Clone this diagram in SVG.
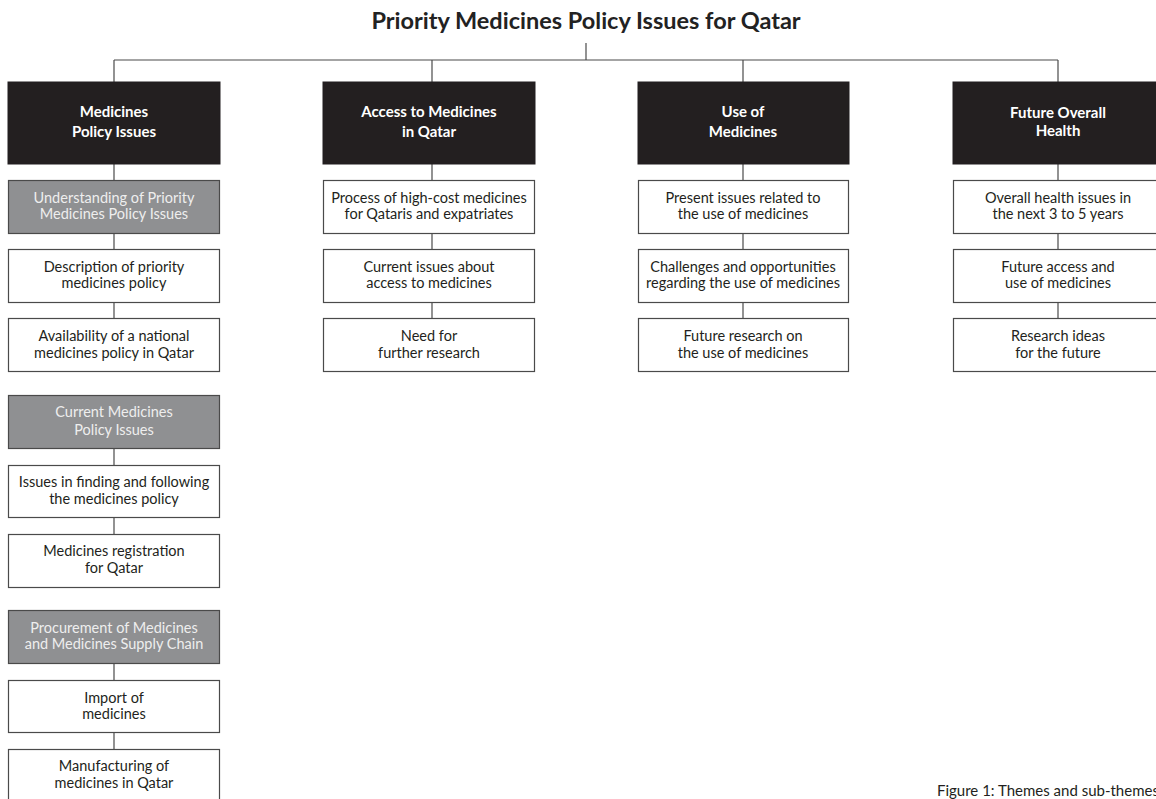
<svg xmlns="http://www.w3.org/2000/svg" width="1156" height="799" viewBox="0 0 1156 799">
<style>
text{font-family:Lato,"Open Sans","Liberation Sans",sans-serif;text-anchor:middle}
.title{font-size:23.5px;font-weight:700;fill:#222}
.th rect{fill:#231f20;stroke:#231f20}
.th text{fill:#fff;font-weight:700;font-size:15px}
.gr rect{fill:#8f9092;stroke:#4a4a4a;stroke-width:1.2}
.gr text{fill:#eeeeee;font-size:14.5px}
.wh rect{fill:#fff;stroke:#4a4a4a;stroke-width:1.2}
.wh text{fill:#231f20;font-size:14.5px}
.con line{stroke:#4a4a4a;stroke-width:1.2}
.cap{font-size:15px;fill:#231f20;text-anchor:start}
</style>
<rect width="1156" height="799" fill="#fff"/>
<text class="title" x="586" y="29">Priority Medicines Policy Issues for Qatar</text>
<g class="con">
<line x1="586" y1="43" x2="586" y2="60"/>
<line x1="114" y1="60" x2="1058" y2="60"/>
<line x1="114" y1="60" x2="114" y2="82"/>
<line x1="432" y1="60" x2="432" y2="82"/>
<line x1="743" y1="60" x2="743" y2="82"/>
<line x1="1058" y1="60" x2="1058" y2="82"/>
<line x1="114" y1="164" x2="114" y2="180"/>
<line x1="114" y1="234" x2="114" y2="249"/>
<line x1="114" y1="302" x2="114" y2="318"/>
<line x1="114" y1="449" x2="114" y2="465"/>
<line x1="114" y1="518" x2="114" y2="534"/>
<line x1="114" y1="663" x2="114" y2="680"/>
<line x1="114" y1="733" x2="114" y2="749"/>
<line x1="432" y1="164" x2="432" y2="180"/>
<line x1="432" y1="234" x2="432" y2="249"/>
<line x1="432" y1="302" x2="432" y2="318"/>
<line x1="743" y1="164" x2="743" y2="180"/>
<line x1="743" y1="234" x2="743" y2="249"/>
<line x1="743" y1="302" x2="743" y2="318"/>
<line x1="1058" y1="164" x2="1058" y2="180"/>
<line x1="1058" y1="234" x2="1058" y2="249"/>
<line x1="1058" y1="302" x2="1058" y2="318"/>
</g>
<!-- column 1 -->
<g id="t1" class="th"><rect x="8" y="82" width="212" height="82"/><text x="114" y="117">Medicines</text><text x="114" y="137">Policy Issues</text></g>
<g id="g1" class="gr"><rect x="8.5" y="180.5" width="211" height="53"/><text x="114" y="203">Understanding of Priority</text><text x="114" y="219">Medicines Policy Issues</text></g>
<g id="w1a" class="wh"><rect x="8.5" y="249.5" width="211" height="53"/><text x="114" y="272">Description of priority</text><text x="114" y="288">medicines policy</text></g>
<g id="w1b" class="wh"><rect x="8.5" y="318.5" width="211" height="53"/><text x="114" y="341">Availability of a national</text><text x="114" y="358">medicines policy in Qatar</text></g>
<g id="g2" class="gr"><rect x="8.5" y="395.5" width="211" height="53"/><text x="114" y="417">Current Medicines</text><text x="114" y="435">Policy Issues</text></g>
<g id="w2a" class="wh"><rect x="8.5" y="465.5" width="211" height="52"/><text x="114" y="487">Issues in finding and following</text><text x="114" y="504">the medicines policy</text></g>
<g id="w2b" class="wh"><rect x="8.5" y="534.5" width="211" height="53"/><text x="114" y="556">Medicines registration</text><text x="114" y="573">for Qatar</text></g>
<g id="g3" class="gr"><rect x="8.5" y="610.5" width="211" height="53"/><text x="114" y="633">Procurement of Medicines</text><text x="114" y="649">and Medicines Supply Chain</text></g>
<g id="w3a" class="wh"><rect x="8.5" y="680.5" width="211" height="52"/><text x="114" y="703">Import of</text><text x="114" y="719">medicines</text></g>
<g id="w3b" class="wh"><rect x="8.5" y="749.5" width="211" height="60"/><text x="114" y="771">Manufacturing of</text><text x="114" y="788">medicines in Qatar</text></g>
<!-- column 2 -->
<g id="t2" class="th"><rect x="323" y="82" width="212" height="82"/><text x="429" y="117">Access to Medicines</text><text x="429" y="137">in Qatar</text></g>
<g id="w4a" class="wh"><rect x="323.5" y="180.5" width="211" height="53"/><text x="429" y="203">Process of high-cost medicines</text><text x="429" y="219">for Qataris and expatriates</text></g>
<g id="w4b" class="wh"><rect x="323.5" y="249.5" width="211" height="53"/><text x="429" y="272">Current issues about</text><text x="429" y="288">access to medicines</text></g>
<g id="w4c" class="wh"><rect x="323.5" y="318.5" width="211" height="53"/><text x="429" y="341">Need for</text><text x="429" y="358">further research</text></g>
<!-- column 3 -->
<g id="t3" class="th"><rect x="638" y="82" width="211" height="82"/><text x="743" y="117">Use of</text><text x="743" y="137">Medicines</text></g>
<g id="w5a" class="wh"><rect x="638.5" y="180.5" width="210" height="53"/><text x="743" y="203">Present issues related to</text><text x="743" y="219">the use of medicines</text></g>
<g id="w5b" class="wh"><rect x="638.5" y="249.5" width="210" height="53"/><text x="743" y="272">Challenges and opportunities</text><text x="743" y="288">regarding the use of medicines</text></g>
<g id="w5c" class="wh"><rect x="638.5" y="318.5" width="210" height="53"/><text x="743" y="341">Future research on</text><text x="743" y="358">the use of medicines</text></g>
<!-- column 4 -->
<g id="t4" class="th"><rect x="953" y="82" width="212" height="82"/><text x="1058" y="118">Future Overall</text><text x="1058" y="136">Health</text></g>
<g id="w6a" class="wh"><rect x="953.5" y="180.5" width="212" height="53"/><text x="1058" y="203">Overall health issues in</text><text x="1058" y="219">the next 3 to 5 years</text></g>
<g id="w6b" class="wh"><rect x="953.5" y="249.5" width="212" height="53"/><text x="1058" y="272">Future access and</text><text x="1058" y="288">use of medicines</text></g>
<g id="w6c" class="wh"><rect x="953.5" y="318.5" width="212" height="53"/><text x="1058" y="341">Research ideas</text><text x="1058" y="358">for the future</text></g>
<text class="cap" x="937" y="796">Figure 1: Themes and sub-themes</text>
</svg>
